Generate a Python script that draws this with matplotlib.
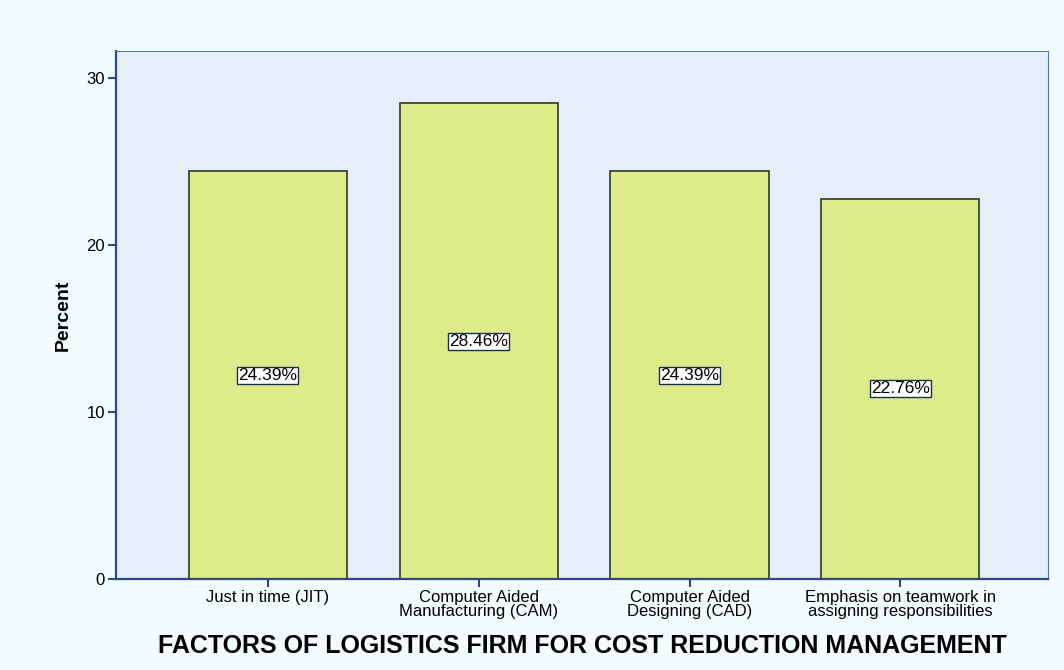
import matplotlib
matplotlib.use('Agg')
import matplotlib.pyplot as plt

categories = ['Just in time (JIT)', 'Computer Aided\nManufacturing (CAM)',
              'Computer Aided\nDesigning (CAD)', 'Emphasis on teamwork in\nassigning responsibilities']
percent = [24.39, 28.46, 24.39, 22.76]

plt.rcParams['font.family'] = ['Liberation Sans', 'DejaVu Sans']

fig = plt.figure(figsize=(10.64, 6.70), dpi=100, facecolor='#F2FBFF')
ax = fig.add_axes([116/1064, 1 - 579/670, 932/1064, 528/670])
ax.set_facecolor('#E6EEFA')

x = range(len(categories))
ax.bar(x, percent, width=0.75, color='#DDEB8A', edgecolor='#2B3A2A', linewidth=1.2, zorder=2)

for i, v in zip(x, percent):
    ax.text(i, v / 2, '%.2f%%' % v, ha='center', va='center', fontsize=12.5, color='black', zorder=3,
            bbox=dict(boxstyle='square,pad=0.05', facecolor='white', edgecolor='#1F2F4F', linewidth=1))

ax.set_xlim(-0.72, 3.70)
ax.set_ylim(0, 31.6)
ax.set_yticks([0, 10, 20, 30])
ax.set_xticks(list(x))
ax.set_xticklabels(categories, fontsize=12, linespacing=0.9)
ax.tick_params(axis='y', labelsize=12, length=6, color='#2C4A80', width=1.5, pad=2)
ax.tick_params(axis='x', length=6, color='#2C4A80', width=1.5, pad=2)

for s in ['top', 'right']:
    ax.spines[s].set_color('#5A78A8')
    ax.spines[s].set_linewidth(0.8)
for s in ['left', 'bottom']:
    ax.spines[s].set_color('#2C4A80')
    ax.spines[s].set_linewidth(1.6)

ax.set_ylabel('Percent', fontsize=14, fontweight='bold')
ax.yaxis.set_label_coords(-0.047, 0.5)
ax.set_xlabel('FACTORS OF LOGISTICS FIRM FOR COST REDUCTION MANAGEMENT', fontsize=18,
              fontweight='bold', labelpad=11)

fig.savefig('out.png', dpi=100, facecolor=fig.get_facecolor())
